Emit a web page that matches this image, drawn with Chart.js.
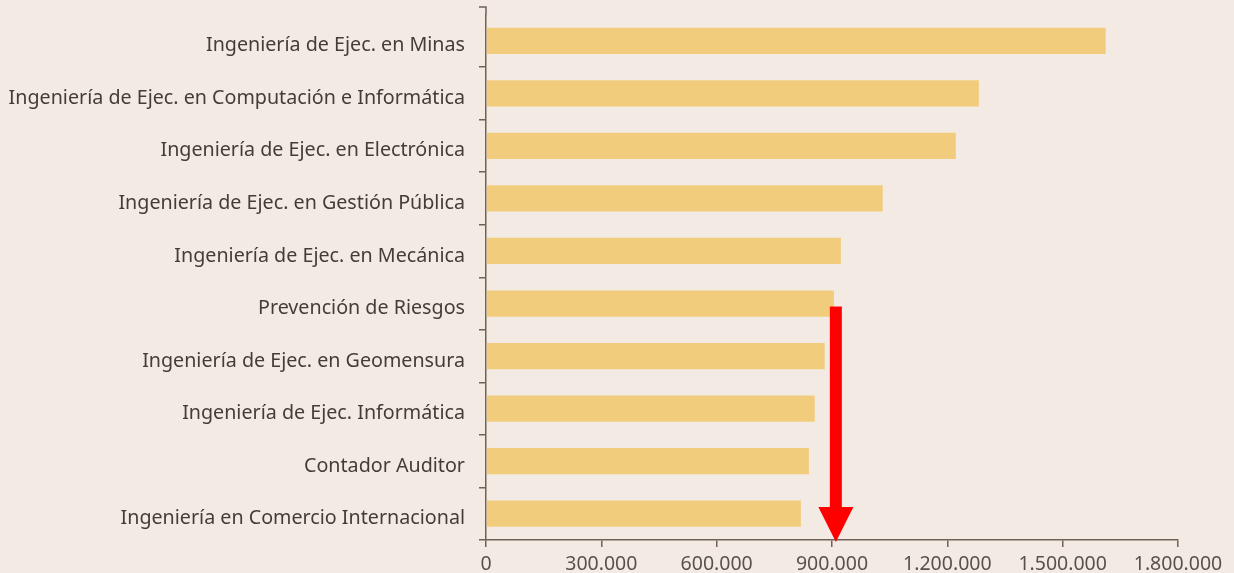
<!DOCTYPE html>
<html><head><meta charset="utf-8">
<script src="https://cdn.jsdelivr.net/npm/chart.js@4.4.1/dist/chart.umd.min.js"></script>
<style>
html,body{margin:0;padding:0;background:#f3ebe3;}
#wrap{width:1234px;height:573px;position:relative;}
</style></head>
<body><div id="wrap"><canvas id="c" width="1234" height="573"></canvas></div>
<script>
const categories = [
  "Ingeniería de Ejec. en Minas",
  "Ingeniería de Ejec. en Computación e Informática",
  "Ingeniería de Ejec. en Electrónica",
  "Ingeniería de Ejec. en Gestión Pública",
  "Ingeniería de Ejec. en Mecánica",
  "Prevención de Riesgos",
  "Ingeniería de Ejec. en Geomensura",
  "Ingeniería de Ejec. Informática",
  "Contador Auditor",
  "Ingeniería en Comercio Internacional"
];
const salaries = [1612000, 1282000, 1222000, 1032000, 923000, 905000, 881000, 855000, 840000, 819000];
const xTickValues = [0, 300000, 600000, 900000, 1200000, 1500000, 1800000];
const arrowValue = 910000;
const arrowFromCategory = "Prevención de Riesgos";

const AXIS_COLOR = '#6e625b';
const fmt = v => v === 0 ? "0" : String(v).replace(/\B(?=(\d{3})+(?!\d))/g, ".");

const arrowPlugin = {
  id: 'arrow',
  afterDatasetsDraw(chart) {
    const {ctx, scales:{x, y}, chartArea} = chart;
    const px = x.getPixelForValue(arrowValue);
    const top = y.getPixelForValue(categories.indexOf(arrowFromCategory)) + 3;
    const tip = chartArea.bottom + 2;
    const headH = 35, headW = 35, shaftW = 12;
    ctx.save();
    ctx.fillStyle = '#ff0000';
    ctx.fillRect(px - shaftW/2, top, shaftW, tip - headH - top + 1);
    ctx.beginPath();
    ctx.moveTo(px - headW/2, tip - headH);
    ctx.lineTo(px + headW/2, tip - headH);
    ctx.lineTo(px, tip);
    ctx.closePath();
    ctx.fill();
    ctx.restore();
  }
};

const axisExtendPlugin = {
  id: 'axisExtend',
  afterDraw(chart) {
    const {ctx, chartArea} = chart;
    const ax = chartArea.left;
    const topY = 7;
    ctx.save();
    ctx.strokeStyle = AXIS_COLOR;
    ctx.lineWidth = 1.5;
    ctx.beginPath();
    ctx.moveTo(ax, chartArea.top);
    ctx.lineTo(ax, topY);
    ctx.lineTo(ax - 7, topY);
    ctx.stroke();
    ctx.restore();
  }
};

new Chart(document.getElementById('c'), {
  type: 'bar',
  data: {
    labels: categories,
    datasets: [{
      data: salaries,
      backgroundColor: '#f2cc7d',
      borderWidth: 0,
      barPercentage: 0.5,
      categoryPercentage: 1.0
    }]
  },
  options: {
    indexAxis: 'y',
    responsive: false,
    animation: false,
    layout: { padding: { top: 0, right: 56, left: 0, bottom: 0 } },
    plugins: { legend: { display: false }, tooltip: { enabled: false } },
    scales: {
      x: {
        min: 0, max: 1800000,
        afterBuildTicks(scale) { scale.ticks = xTickValues.map(v => ({value: v})); },
        afterFit(scale) { scale.height = 33; },
        grid: { drawOnChartArea: false, drawTicks: true, tickLength: 7, color: AXIS_COLOR, lineWidth: 1.5 },
        border: { color: AXIS_COLOR, width: 1.5 },
        ticks: {
          callback: v => fmt(v),
          color: '#5a504b',
          font: { family: 'Noto Sans', size: 19.5 },
          padding: 6,
          maxRotation: 0
        }
      },
      y: {
        afterFit(scale) { scale.width = 486; scale.paddingTop = 14.5; scale.paddingBottom = 0; },
        grid: {
          offset: true, drawOnChartArea: false, drawTicks: true, tickLength: 7,
          color: c => c.index === 0 ? 'rgba(0,0,0,0)' : AXIS_COLOR, lineWidth: 1.5
        },
        border: { color: AXIS_COLOR, width: 1.5 },
        ticks: {
          color: '#453c38',
          font: { family: 'Noto Sans', size: 19.7 },
          padding: 14,
          labelOffset: 5
        }
      }
    }
  },
  plugins: [arrowPlugin, axisExtendPlugin]
});
</script></body></html>
